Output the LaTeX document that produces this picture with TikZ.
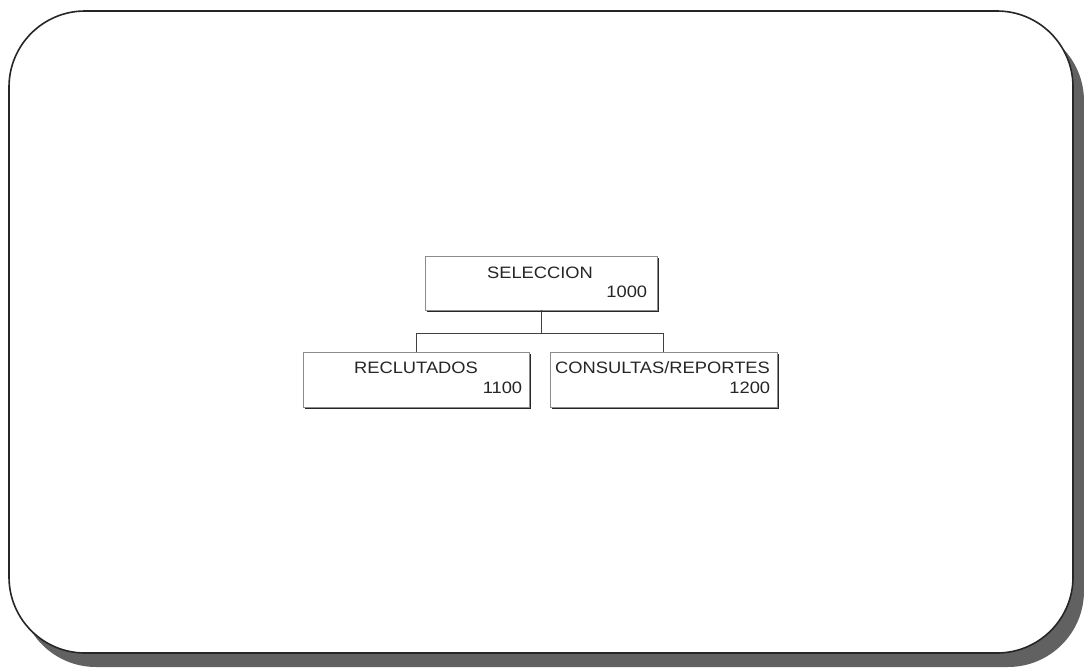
\documentclass[tikz,border=0pt]{standalone}
\usepackage{fontspec}
\usepackage{graphicx}
\setmainfont{Liberation Sans}
\usetikzlibrary{shadows}
% slightly widened lettering used in the module boxes
\newcommand{\widetext}[1]{\scalebox{1.11}[1]{#1}}
\begin{document}
\begin{tikzpicture}[x=1pt,y=-1pt,
  frameline/.style={line width=1.6pt,draw=black!85,rounded corners=76pt},
  frameshadow/.style={fill=black!62,rounded corners=76pt},
  modbox/.style={draw=black!45,line width=0.7pt,fill=white,inner sep=0pt,
    drop shadow={shadow xshift=2.2pt,shadow yshift=-2.4pt,fill=black!85,opacity=1}},
  title/.style={font=\fontsize{16.5}{17}\selectfont,text=black!85,inner sep=0pt,anchor=base},
  code/.style={font=\fontsize{16.5}{17}\selectfont,text=black!85,inner sep=0pt,anchor=base east},
  link/.style={draw=black!75,line width=0.8pt}]
\useasboundingbox (0,0) rectangle (1084,667);
% page frame with its heavy shadow
\fill[frameshadow] (20,25) rectangle (1084,667);
\filldraw[frameline,fill=white] (9,11) rectangle (1073,653);
% module boxes
\node[modbox,minimum width=232pt,minimum height=54pt] (sel) at (541,283) {};
\node[modbox,minimum width=226pt,minimum height=55pt] (rec) at (416,379.5) {};
\node[modbox,minimum width=227pt,minimum height=55pt] (con) at (663.5,379.5) {};
% labels
\node[title] (selname) at ([xshift=-1pt,yshift=-23pt]sel.north) {\widetext{SELECCION}};
\node[code] (selcode) at ([xshift=-10pt,yshift=12.5pt]sel.south east) {\widetext{1000}};
\node[title] (recname) at ([yshift=-22pt]rec.north) {\widetext{RECLUTADOS}};
\node[code] (reccode) at ([xshift=-7pt,yshift=14pt]rec.south east) {\widetext{1100}};
\node[title] (conname) at ([xshift=-1pt,yshift=-22pt]con.north) {\widetext{CONSULTAS/REPORTES}};
\node[code] (concode) at ([xshift=-7pt,yshift=14pt]con.south east) {\widetext{1200}};
% hierarchy connectors
\coordinate (fork) at ([yshift=-23pt]sel.south);
\draw[link] (sel.south) -- (fork) -| (rec.north);
\draw[link] (fork) -| (con.north);
\end{tikzpicture}
\end{document}
